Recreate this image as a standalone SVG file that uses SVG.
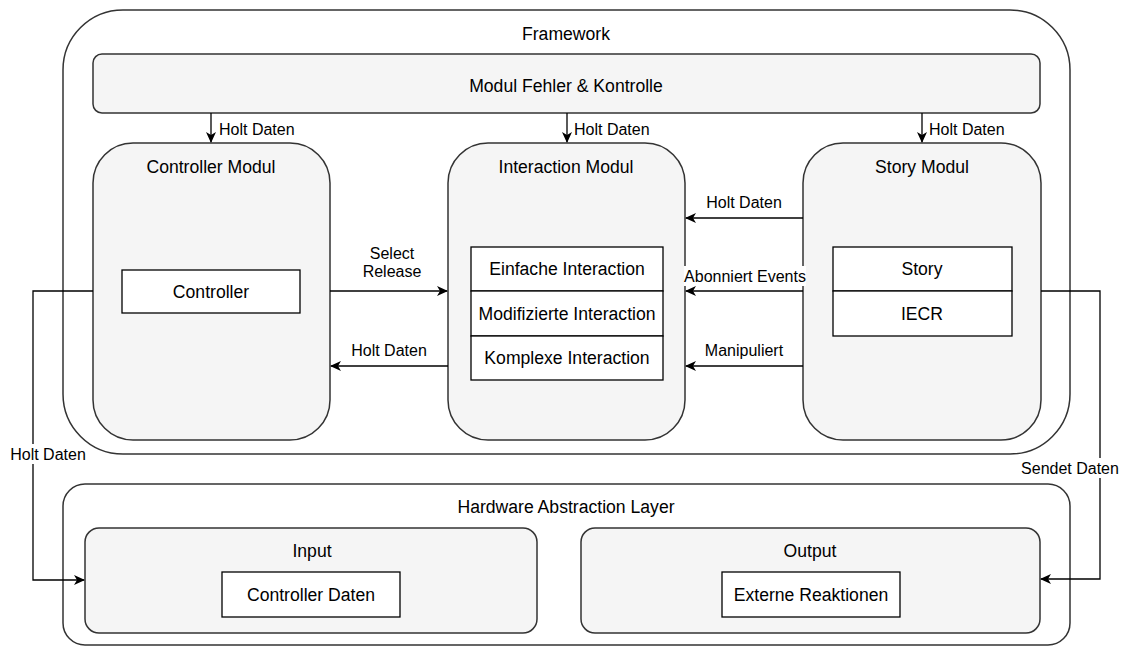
<svg xmlns="http://www.w3.org/2000/svg" width="1126" height="646" viewBox="0 0 1126 646">
<defs>
<marker id="arr" markerWidth="12" markerHeight="10" refX="10" refY="5" orient="auto" markerUnits="userSpaceOnUse">
<path d="M0,0 L11,5 L0,10 L3,5 Z" fill="#000"/>
</marker>
<style>
text{font-family:"Liberation Sans",Arial,sans-serif;font-size:17.6px;fill:#000;text-anchor:middle}
.l{font-size:16px}
.c{fill:#fff;stroke:#333;stroke-width:1.5}
.m{fill:#f5f5f5;stroke:#333;stroke-width:1.5}
.b{fill:#fff;stroke:#000;stroke-width:1.3}
.e{fill:none;stroke:#000;stroke-width:1.3;marker-end:url(#arr)}
.bg{fill:#fff}
</style>
</defs>
<rect width="1126" height="646" fill="#fff"/>
<g id="framework">
<rect class="c" x="63" y="10" width="1007" height="444" rx="60" ry="60"/>
<text x="566" y="40">Framework</text>
</g>
<g id="hal">
<rect class="c" x="63" y="484" width="1007" height="161" rx="22" ry="22"/>
<text x="566" y="513">Hardware Abstraction Layer</text>
</g>
<g id="fehler">
<rect class="m" x="93" y="54" width="947" height="59" rx="9" ry="9"/>
<text x="566" y="92">Modul Fehler &amp; Kontrolle</text>
</g>
<g id="controller-modul">
<rect class="m" x="93" y="143" width="237" height="297" rx="40" ry="40"/>
<text x="211" y="173">Controller Modul</text>
<rect class="b" x="122" y="270" width="178" height="43"/>
<text x="211" y="298">Controller</text>
</g>
<g id="interaction-modul">
<rect class="m" x="448" y="143" width="237" height="297" rx="40" ry="40"/>
<text x="566" y="173">Interaction Modul</text>
<rect class="b" x="471" y="247" width="192" height="44"/>
<text x="567" y="275">Einfache Interaction</text>
<rect class="b" x="471" y="291" width="192" height="45"/>
<text x="567" y="320">Modifizierte Interaction</text>
<rect class="b" x="471" y="336" width="192" height="44"/>
<text x="567" y="364">Komplexe Interaction</text>
</g>
<g id="story-modul">
<rect class="m" x="803" y="143" width="238" height="297" rx="40" ry="40"/>
<text x="922" y="173">Story Modul</text>
<rect class="b" x="833" y="247" width="179" height="44"/>
<text x="922" y="275">Story</text>
<rect class="b" x="833" y="291" width="179" height="45"/>
<text x="922" y="320">IECR</text>
</g>
<g id="input">
<rect class="m" x="85" y="528" width="452" height="105" rx="14" ry="14"/>
<text x="312" y="557">Input</text>
<rect class="b" x="222" y="572" width="178" height="45"/>
<text x="311" y="601">Controller Daten</text>
</g>
<g id="output">
<rect class="m" x="581" y="528" width="459" height="105" rx="14" ry="14"/>
<text x="810" y="557">Output</text>
<rect class="b" x="722" y="572" width="178" height="45"/>
<text x="811" y="601">Externe Reaktionen</text>
</g>
<g id="connectors">
<path class="e" d="M211,113 L211,142"/>
<path class="e" d="M567,113 L567,142"/>
<path class="e" d="M922,113 L922,142"/>
<path class="e" d="M330,291 L447,291"/>
<path class="e" d="M448,366 L331,366"/>
<path class="e" d="M803,218 L686,218"/>
<path class="e" d="M803,291 L686,291"/>
<path class="e" d="M803,366 L686,366"/>
<path class="e" d="M93,291 L33,291 L33,580 L84,580"/>
<path class="e" d="M1041,291 L1100,291 L1100,579 L1041,579"/>
<text class="l" x="219" y="135" style="text-anchor:start">Holt Daten</text>
<text class="l" x="574" y="135" style="text-anchor:start">Holt Daten</text>
<text class="l" x="929" y="135" style="text-anchor:start">Holt Daten</text>
<text class="l" x="392" y="259">Select</text>
<text class="l" x="392" y="277">Release</text>
<text class="l" x="389" y="356">Holt Daten</text>
<text class="l" x="744" y="208">Holt Daten</text>
<rect class="bg" x="684" y="266" width="122" height="20"/>
<text class="l" x="745" y="282">Abonniert Events</text>
<text class="l" x="744" y="356">Manipuliert</text>
<rect class="bg" x="8" y="444" width="80" height="20"/>
<text class="l" x="48" y="460">Holt Daten</text>
<rect class="bg" x="1020" y="458" width="102" height="20"/>
<text class="l" x="1070" y="474">Sendet Daten</text>
</g>
</svg>
